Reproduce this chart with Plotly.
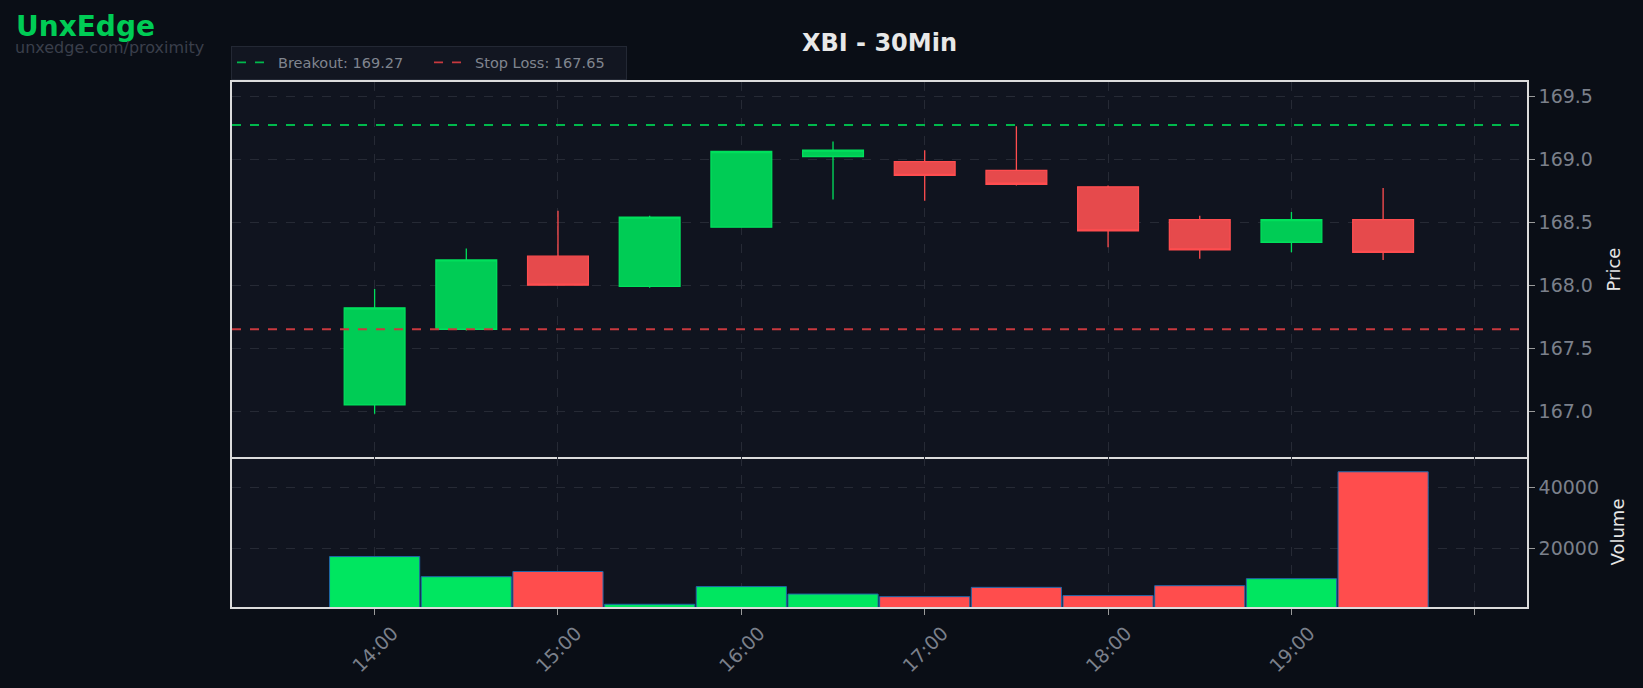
import plotly.graph_objects as go
from plotly.subplots import make_subplots

# ---------------- data ----------------
times = ["2025-01-02 14:00", "2025-01-02 14:30", "2025-01-02 15:00", "2025-01-02 15:30",
         "2025-01-02 16:00", "2025-01-02 16:30", "2025-01-02 17:00", "2025-01-02 17:30",
         "2025-01-02 18:00", "2025-01-02 18:30", "2025-01-02 19:00", "2025-01-02 19:30"]
opens = [167.05, 167.65, 168.23, 167.99, 168.46, 169.02, 168.98, 168.91, 168.78, 168.52, 168.34, 168.52]
highs = [167.97, 168.29, 168.59, 168.55, 169.06, 169.14, 169.07, 169.26, 168.79, 168.55, 168.58, 168.77]
lows = [166.98, 167.64, 168.00, 167.98, 168.46, 168.68, 168.67, 168.79, 168.30, 168.21, 168.26, 168.20]
closes = [167.82, 168.20, 168.00, 168.54, 169.06, 169.07, 168.87, 168.80, 168.43, 168.28, 168.52, 168.26]
volumes = [17200, 10600, 12300, 1550, 7350, 4900, 4050, 7100, 4400, 7650, 9950, 45000]

breakout = 169.27
stop_loss = 167.65

tick_times = ["2025-01-02 14:00", "2025-01-02 15:00", "2025-01-02 16:00", "2025-01-02 17:00",
              "2025-01-02 18:00", "2025-01-02 19:00", "2025-01-02 20:00"]
tick_labels = ["14:00", "15:00", "16:00", "17:00", "18:00", "19:00", ""]

x_range = ["2025-01-02 13:13:20", "2025-01-02 20:17:05"]
price_range = [166.637, 169.611]
vol_range = [656, 49840]

# ---------------- style ----------------
W, H = 1643, 688
ML, MR, MT, MB = 232, 116, 82, 81
PW, PH = W - ML - MR, H - MT - MB

PAPER_BG = "#0a0e16"
PLOT_BG = "#10141f"
GRID = "#262a35"
FRAME = "#dcdcdc"
TICK_TXT = "#7b808b"
FONT = "DejaVu Sans"

GREEN_FILL = "#00cc55"
GREEN_LINE = "#00e05c"
RED_FILL = "#e64a4c"
RED_LINE = "#ff4d4f"
VOL_GREEN = "#00e660"
VOL_RED = "#ff4d4d"


def px_x(x):
    return (x - ML) / PW


def px_y(y):
    return (H - MB - y) / PH


fig = make_subplots(rows=2, cols=1, shared_xaxes=True, vertical_spacing=0,
                    row_heights=[0.7143, 0.2857])

fig.add_trace(go.Candlestick(
    x=times, open=opens, high=highs, low=lows, close=closes,
    increasing=dict(fillcolor=GREEN_FILL, line=dict(color=GREEN_LINE, width=1.3)),
    decreasing=dict(fillcolor=RED_FILL, line=dict(color=RED_LINE, width=1.3)),
    whiskerwidth=0, showlegend=False, name="XBI"), row=1, col=1)

fig.add_trace(go.Scatter(
    x=x_range, y=[breakout, breakout], mode="lines",
    line=dict(color="#00b84c", width=1.8, dash="dash"),
    name=f"Breakout: {breakout:.2f}"), row=1, col=1)
fig.add_trace(go.Scatter(
    x=x_range, y=[stop_loss, stop_loss], mode="lines",
    line=dict(color="#c8393f", width=1.8, dash="dash"),
    name=f"Stop Loss: {stop_loss:.2f}"), row=1, col=1)

vol_colors = [VOL_GREEN if c >= o else VOL_RED for o, c in zip(opens, closes)]
fig.add_trace(go.Bar(
    x=times, y=volumes, marker=dict(color=vol_colors, line=dict(color="#1f66a8", width=1)),
    width=29.5 * 60 * 1000, showlegend=False, name="Volume"), row=2, col=1)

axis_common = dict(showline=True, mirror=True, linecolor=FRAME, linewidth=1.5,
                   showgrid=True, gridcolor=GRID, griddash="dash", gridwidth=1,
                   zeroline=False)

fig.update_xaxes(**axis_common, range=x_range, rangeslider_visible=False,
                 tickvals=tick_times, ticktext=tick_labels,
                 ticks="outside", ticklen=6, tickcolor="#9a9a9a",
                 tickfont=dict(family=FONT, size=19, color=TICK_TXT), tickangle=-45,
                 ticklabelshift=18)
fig.update_xaxes(showticklabels=False, ticks="", row=1, col=1)
fig.update_xaxes(mirror=False, row=2, col=1)

fig.update_yaxes(**axis_common, side="right", ticks="outside", ticklen=6, tickcolor="#9a9a9a",
                 tickfont=dict(family=FONT, size=19, color=TICK_TXT))
fig.update_yaxes(range=price_range, dtick=0.5, tickformat=".1f",
                 title=dict(text="Price", font=dict(family=FONT, size=18, color="#e6e6e6"), standoff=15),
                 row=1, col=1)
fig.update_yaxes(range=vol_range, dtick=20000, tickformat="d",
                 title=dict(text="Volume", font=dict(family=FONT, size=18, color="#e6e6e6"), standoff=13),
                 row=2, col=1)

fig.update_layout(
    width=W, height=H,
    margin=dict(l=ML, r=MR, t=MT, b=MB),
    paper_bgcolor=PAPER_BG, plot_bgcolor=PLOT_BG,
    boxgap=0.337, boxgroupgap=0,
    font=dict(family=FONT),
    showlegend=True,
    legend=dict(orientation="h", x=px_x(231), y=px_y(79.5), xanchor="left", yanchor="bottom",
                bgcolor="#121621", bordercolor="#232834", borderwidth=1,
                font=dict(family=FONT, size=14.5, color="#80858f"),
                entrywidth=146, itemwidth=36),
    annotations=[
        dict(text="<b>XBI - 30Min</b>", xref="paper", yref="paper", x=0.5, y=px_y(43),
             xanchor="center", yanchor="middle", showarrow=False,
             font=dict(family=FONT, size=24, color="#e8e8e8")),
        dict(text="<b>UnxEdge</b>", xref="paper", yref="paper", x=px_x(14), y=px_y(26.5),
             xanchor="left", yanchor="middle", showarrow=False,
             font=dict(family=FONT, size=28, color="#00cc55")),
        dict(text="unxedge.com/proximity", xref="paper", yref="paper", x=px_x(13), y=px_y(48),
             xanchor="left", yanchor="middle", showarrow=False,
             font=dict(family=FONT, size=16, color="#3a3f4b")),
    ],
)

fig.write_html("out.html", config={"displayModeBar": False},
               post_script="document.body.style.margin='0';document.body.style.background='#0a0e16';")
